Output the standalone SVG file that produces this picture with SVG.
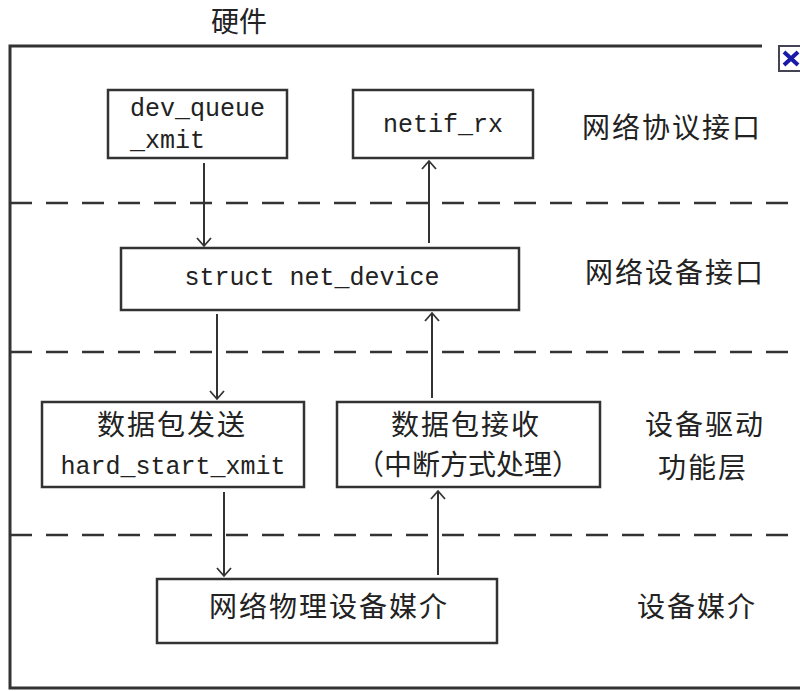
<svg xmlns="http://www.w3.org/2000/svg" width="800" height="691" viewBox="0 0 800 691">
<defs>
<marker id="ah" viewBox="0 0 20 20" refX="10" refY="10" markerWidth="20" markerHeight="20" markerUnits="userSpaceOnUse" orient="auto">
<polyline points="2,3 10,10 2,17" fill="none" stroke="#333" stroke-width="1.8"/>
</marker>
<style>
.box{fill:#fff;stroke:#333;stroke-width:2.5}
.mono{font-family:"Liberation Mono","DejaVu Sans Mono",monospace;font-size:25px;fill:#222}
.cjk{font-family:"Noto Sans CJK SC","Noto Sans",sans-serif;font-size:28px;fill:#222}
.dash{stroke:#333;stroke-width:2.5;stroke-dasharray:22 14;fill:none}
.conn{stroke:#333;stroke-width:2;fill:none;marker-end:url(#ah)}
</style>
</defs>
<rect width="800" height="691" fill="#fff"/>
<text class="cjk" x="239" y="32" text-anchor="middle" font-size="24">硬件</text>
<path d="M762,46 H10 V688 H800" fill="none" stroke="#333" stroke-width="3"/>
<g id="broken-icon">
<rect x="779" y="46" width="24" height="25" fill="#fff" stroke="#445" stroke-width="2"/>
<path d="M784,52 L798,65 M798,52 L784,65" stroke="#1a1aa8" stroke-width="4"/>
</g>
<g id="layers">
<line class="dash" x1="10" y1="203" x2="800" y2="203"/>
<line class="dash" x1="10" y1="352" x2="800" y2="352"/>
<line class="dash" x1="10" y1="535" x2="800" y2="535"/>
<text class="cjk" x="582" y="138" letter-spacing="2">网络协议接口</text>
<text class="cjk" x="585" y="283" letter-spacing="2">网络设备接口</text>
<text class="cjk" x="645" y="435" letter-spacing="2">设备驱动</text>
<text class="cjk" x="658" y="478" letter-spacing="2">功能层</text>
<text class="cjk" x="637" y="617" letter-spacing="2">设备媒介</text>
</g>
<g id="dev_queue_xmit">
<rect class="box" x="108" y="90" width="179" height="68"/>
<text class="mono" x="130" y="116">dev_queue</text>
<text class="mono" x="130" y="148">_xmit</text>
</g>
<g id="netif_rx">
<rect class="box" x="353" y="90" width="180" height="68"/>
<text class="mono" x="443" y="132" text-anchor="middle">netif_rx</text>
</g>
<g id="net_device">
<rect class="box" x="121" y="248" width="398" height="62"/>
<text class="mono" x="312" y="285" text-anchor="middle">struct net_device</text>
</g>
<g id="send">
<rect class="box" x="42" y="402" width="262" height="85"/>
<text class="cjk" x="172" y="435" text-anchor="middle" letter-spacing="2">数据包发送</text>
<text class="mono" x="173" y="474" text-anchor="middle">hard_start_xmit</text>
</g>
<g id="receive">
<rect class="box" x="337" y="402" width="263" height="85"/>
<text class="cjk" x="466" y="435" text-anchor="middle" letter-spacing="2">数据包接收</text>
<text class="cjk" x="468" y="475" text-anchor="middle">（中断方式处理）</text>
</g>
<g id="media">
<rect class="box" x="157" y="579" width="340" height="64"/>
<text class="cjk" x="329" y="617" text-anchor="middle" letter-spacing="2">网络物理设备媒介</text>
</g>
<g id="connectors">
<line class="conn" x1="204" y1="163" x2="204" y2="246"/>
<line class="conn" x1="429" y1="243" x2="429" y2="161"/>
<line class="conn" x1="217" y1="314" x2="217" y2="399"/>
<line class="conn" x1="432" y1="398" x2="432" y2="313"/>
<line class="conn" x1="224" y1="492" x2="224" y2="576"/>
<line class="conn" x1="438" y1="575" x2="438" y2="491"/>
</g>
</svg>
